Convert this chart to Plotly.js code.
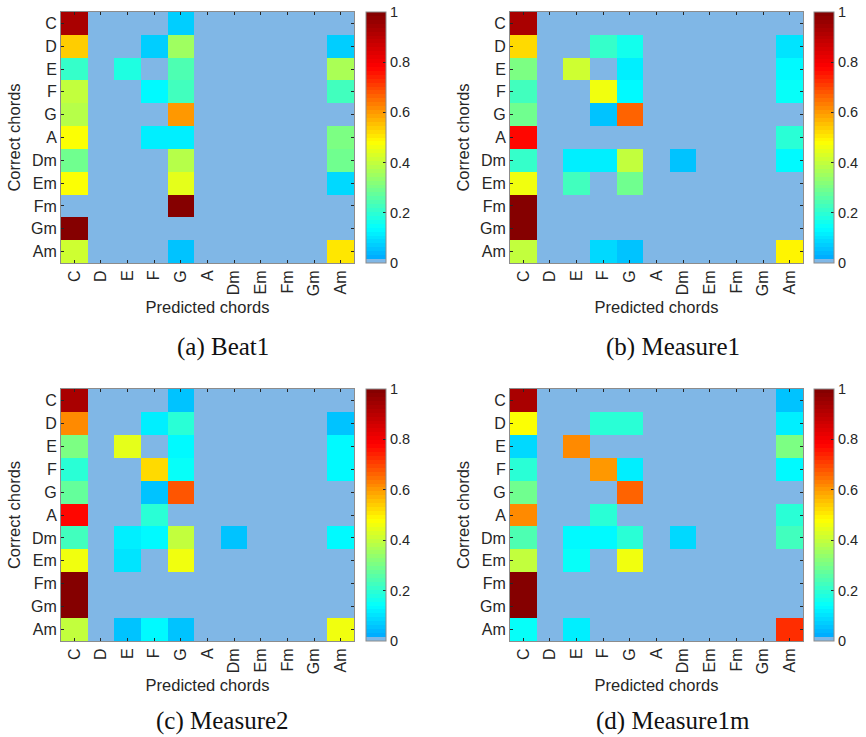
<!DOCTYPE html>
<html>
<head>
<meta charset="utf-8">
<script src="https://cdn.plot.ly/plotly-3.0.1.min.js"></script>
<style>html,body{margin:0;padding:0;background:#fff;}#chart{width:866px;height:737px;}</style>
</head>
<body>
<div id="chart"></div>
<script>
// ---- data ----
const chords = ["C","D","E","F","G","A","Dm","Em","Fm","Gm","Am"];
const captions = ["(a) Beat1","(b) Measure1","(c) Measure2","(d) Measure1m"];
const colorbarTicks = [0,0.2,0.4,0.6,0.8,1];
const colorbarTickText = ["0","0.2","0.4","0.6","0.8","1"];

// rows = correct chord, columns = predicted chord
const beat1 = [
  [0.93,0,0,0,0.07,0,0,0,0,0,0],
  [0.54,0,0,0.07,0.35,0,0,0,0,0,0.07],
  [0.21,0,0.18,0,0.24,0,0,0,0,0,0.37],
  [0.40,0,0,0.13,0.22,0,0,0,0,0,0.22],
  [0.38,0,0,0,0.60,0,0,0,0,0,0],
  [0.48,0,0,0.11,0.11,0,0,0,0,0,0.30],
  [0.29,0,0,0,0.38,0,0,0,0,0,0.29],
  [0.47,0,0,0,0.45,0,0,0,0,0,0.08],
  [0,0,0,0,1,0,0,0,0,0,0],
  [1,0,0,0,0,0,0,0,0,0,0],
  [0.42,0,0,0,0.05,0,0,0,0,0,0.50]
];
const measure1 = [
  [0.93,0,0,0,0,0,0,0,0,0,0],
  [0.53,0,0,0.21,0.16,0,0,0,0,0,0.10],
  [0.31,0,0.42,0,0.12,0,0,0,0,0,0.14],
  [0.22,0,0,0.46,0.14,0,0,0,0,0,0.15],
  [0.29,0,0,0.06,0.66,0,0,0,0,0,0],
  [0.78,0,0,0,0,0,0,0,0,0,0.20],
  [0.21,0,0.11,0.11,0.40,0,0.06,0,0,0,0.14],
  [0.46,0,0.22,0,0.29,0,0,0,0,0,0],
  [1,0,0,0,0,0,0,0,0,0,0],
  [1,0,0,0,0,0,0,0,0,0,0],
  [0.40,0,0,0.09,0.06,0,0,0,0,0,0.49]
];
const measure2 = [
  [0.93,0,0,0,0.06,0,0,0,0,0,0],
  [0.61,0,0,0.12,0.20,0,0,0,0,0,0.06],
  [0.31,0,0.44,0,0.14,0,0,0,0,0,0.13],
  [0.20,0,0,0.53,0.15,0,0,0,0,0,0.13],
  [0.27,0,0,0.06,0.68,0,0,0,0,0,0],
  [0.78,0,0,0.20,0,0,0,0,0,0,0],
  [0.22,0,0.11,0.13,0.40,0,0.06,0,0,0,0.14],
  [0.46,0,0.10,0,0.46,0,0,0,0,0,0],
  [1,0,0,0,0,0,0,0,0,0,0],
  [1,0,0,0,0,0,0,0,0,0,0],
  [0.40,0,0.06,0.13,0.06,0,0,0,0,0,0.46]
];
const measure1m = [
  [0.93,0,0,0,0,0,0,0,0,0,0.05],
  [0.48,0,0,0.20,0.20,0,0,0,0,0,0.12],
  [0.08,0,0.61,0,0,0,0,0,0,0,0.31],
  [0.20,0,0,0.60,0.11,0,0,0,0,0,0.13],
  [0.29,0,0,0,0.66,0,0,0,0,0,0],
  [0.61,0,0,0.20,0,0,0,0,0,0,0.20],
  [0.24,0,0.14,0.13,0.20,0,0.09,0,0,0,0.22],
  [0.40,0,0.15,0,0.46,0,0,0,0,0,0],
  [1,0,0,0,0,0,0,0,0,0,0],
  [1,0,0,0,0,0,0,0,0,0,0],
  [0.15,0,0.12,0,0,0,0,0,0,0,0.72]
];

// ---- colour map: jet-like, lowest bin light blue, 64 steps ----
const zeroColor = "rgb(128,183,230)";
const anchors = [[0.016,[0,168,255]],[0.14,[0,255,255]],[0.48,[255,255,0]],[0.78,[255,0,0]],[1,[128,0,0]]];
function cmap(v){
  if (v <= anchors[0][0]) return anchors[0][1];
  for (let i=1;i<anchors.length;i++){
    if (v <= anchors[i][0]){
      const [v0,c0]=anchors[i-1],[v1,c1]=anchors[i];
      const t=(v-v0)/(v1-v0);
      return c0.map((c,j)=>Math.round(c+(c1[j]-c)*t));
    }
  }
  return anchors[anchors.length-1][1];
}
const N=64, colorscale=[];
for (let k=0;k<N;k++){
  const col = k===0 ? zeroColor : "rgb("+cmap((k+0.5)/N).join(",")+")";
  colorscale.push([k/N,col]);
  colorscale.push([(k+1)/N,col]);
}

// ---- layout geometry (pixels) ----
const W=866,H=737;
const panels = [
  {z:beat1,     x0:61,  x1:354, y0:12,  y1:263, cb:366, cap:[223,347]},
  {z:measure1,  x0:510, x1:803, y0:12,  y1:263, cb:814, cap:[673,347]},
  {z:measure2,  x0:61,  x1:354, y0:389, y1:641, cb:366, cap:[223,721]},
  {z:measure1m, x0:510, x1:803, y0:389, y1:641, cb:814, cap:[673,721]}
];
const txt="#262626", fontSans="Liberation Sans, Arial, sans-serif";
const data=[], layout={
  width:W,height:H,margin:{l:0,r:0,t:0,b:0},
  paper_bgcolor:"#fff",plot_bgcolor:"#fff",showlegend:false,
  font:{family:fontSans,color:txt},annotations:[]
};
panels.forEach((p,i)=>{
  const n=i+1, xa="xaxis"+(n===1?"":n), ya="yaxis"+(n===1?"":n);
  data.push({
    type:"heatmap",z:p.z,x:chords,y:chords,
    xaxis:"x"+(n===1?"":n),yaxis:"y"+(n===1?"":n),
    zmin:0,zmax:1,colorscale:colorscale,zsmooth:false,
    colorbar:{x:p.cb/W,xanchor:"left",xpad:0,ypad:0,
      y:1-(p.y0+p.y1)/2/H,yanchor:"middle",len:p.y1-p.y0,lenmode:"pixels",
      thickness:20,thicknessmode:"pixels",outlinewidth:1,outlinecolor:"#8c8c8c",
      ticks:"inside",ticklen:3,tickcolor:txt,tickvals:colorbarTicks,ticktext:colorbarTickText,
      tickfont:{family:fontSans,size:14.5,color:txt}}
  });
  const common={showline:true,mirror:"ticks",linecolor:"#8c8c8c",linewidth:1,ticks:"inside",ticklen:3,
    tickcolor:txt,showgrid:false,zeroline:false,type:"category",categoryorder:"array",categoryarray:chords,
    tickfont:{family:fontSans,size:16,color:txt}};
  layout[xa]=Object.assign({},common,{domain:[p.x0/W,p.x1/W],anchor:"y"+(n===1?"":n),tickangle:-90,
    title:{text:"Predicted chords",font:{family:fontSans,size:16.5,color:txt},standoff:6}});
  layout[ya]=Object.assign({},common,{domain:[1-p.y1/H,1-p.y0/H],anchor:"x"+(n===1?"":n),autorange:"reversed",
    title:{text:"Correct chords",font:{family:fontSans,size:16.5,color:txt},standoff:6}});
  layout.annotations.push({text:captions[i],xref:"paper",yref:"paper",x:p.cap[0]/W,y:1-p.cap[1]/H,
    xanchor:"center",yanchor:"middle",showarrow:false,font:{family:"Liberation Serif, Times New Roman, serif",size:25,color:"#111"}});
});
Plotly.newPlot("chart",data,layout,{displayModeBar:false,staticPlot:true});
</script>
</body>
</html>
